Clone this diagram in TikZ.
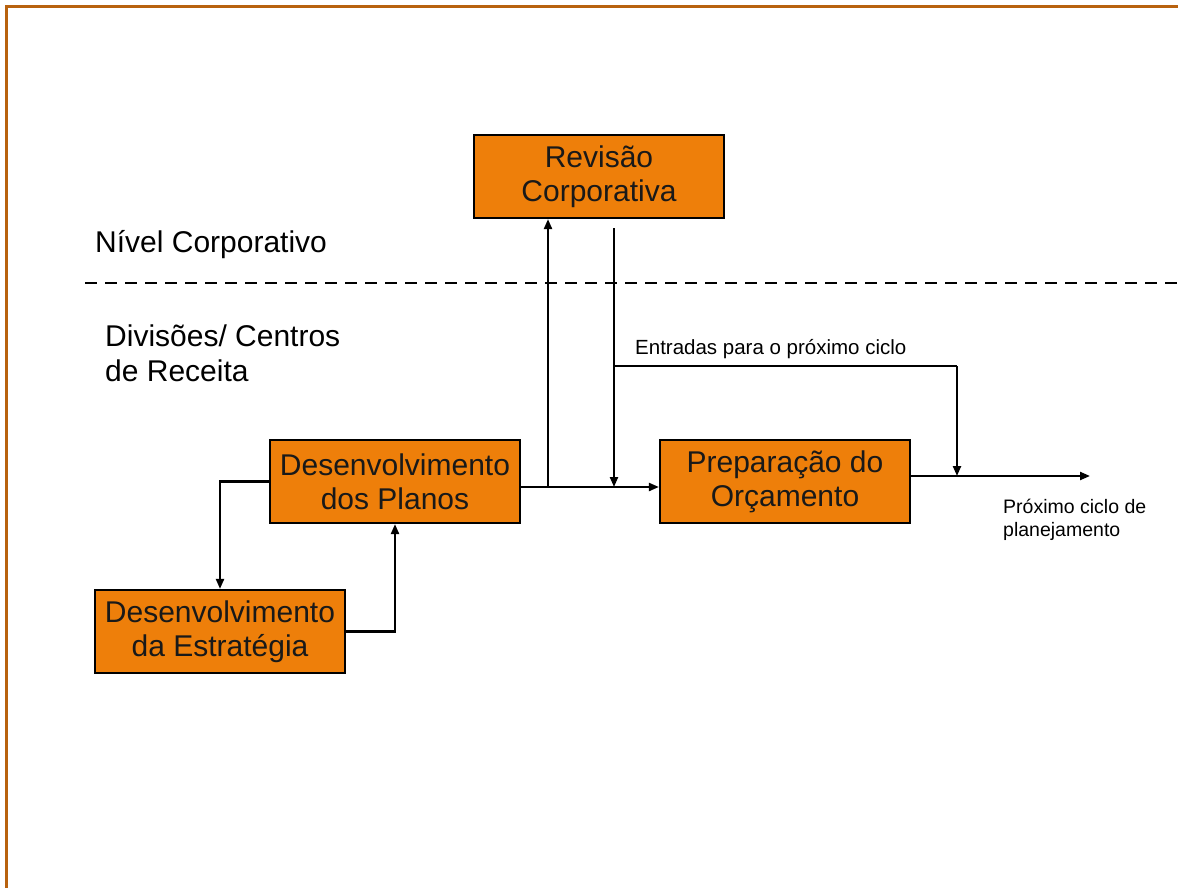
\documentclass[tikz,border=0pt]{standalone}
\usepackage{fontspec}
\setmainfont{Liberation Sans}
\usetikzlibrary{arrows.meta}
\definecolor{boxorange}{HTML}{EE7F0A}
\definecolor{frameor}{HTML}{B8620F}
\begin{document}
\begin{tikzpicture}[x=1pt,y=-1pt,
 procbox/.style={draw=black, line width=2.2pt, fill=boxorange, minimum width=250pt, minimum height=83pt, align=center, font=\fontsize{30}{34}\selectfont, text=black!90, inner sep=0pt},
 conn/.style={line width=2.2pt, -{Triangle[length=10pt,width=8pt]}},
 plainline/.style={line width=2.2pt},
 biglabel/.style={font=\fontsize{30}{35}\selectfont, align=left, inner sep=0pt},
 smalllabel/.style={font=\fontsize{19.5}{22}\selectfont, align=left, inner sep=0pt}]
\useasboundingbox (0,0) rectangle (1178,888);
\fill[white] (0,0) rectangle (1178,888);
\draw[frameor, line width=3pt] (6,888) -- (6,7) -- (1178,7);

\draw[line width=2pt, dash pattern=on 12pt off 8pt] (85,283) -- (1178,283);

\node[procbox] (Revisao) at (599,176.5) {Revisão\\Corporativa};
\node[procbox] (Planos) at (395,481.5) {Desenvolvimento\\dos Planos};
\node[procbox] (Estrategia) at (220,631.5) {Desenvolvimento\\da Estratégia};
\node[procbox] (Preparacao) at (785,481.5) {Preparação do\\Orçamento};

\node[biglabel, anchor=base west] (nivel) at (95,252) {Nível Corporativo};
\node[biglabel, anchor=base west] (div1) at (105,346) {Divisões/ Centros};
\node[biglabel, anchor=base west] (div2) at (105,381) {de Receita};
\node[smalllabel, anchor=base west, font=\fontsize{20.5}{22}\selectfont] (entr) at (635,354) {Entradas para o próximo ciclo};
\node[smalllabel, anchor=base west] (prox1) at (1003,513) {Próximo ciclo de};
\node[smalllabel, anchor=base west] (prox2) at (1003,536) {planejamento};

\coordinate (j1) at (548,487);
\coordinate (j2) at (614,487);
\coordinate (r1) at (614,228);
\coordinate (e1) at (614,366);
\coordinate (e2) at (957,366);
\coordinate (j3) at (957,476);
\coordinate (out) at (1090,476);

\draw[conn] (Planos.east |- j1) -- (Preparacao.west |- j1);
\draw[conn] (j1) -- (j1 |- Revisao.south);
\draw[conn] (r1) -- (j2);
\draw[plainline] (e1) -- (e2);
\draw[conn] (e2) -- (j3);
\draw[conn] (Preparacao.east |- j3) -- (out);
\draw[conn] (Planos.west) -| (Estrategia.north);
\draw[conn] (Estrategia.east) -| (Planos.south);
\end{tikzpicture}
\end{document}
